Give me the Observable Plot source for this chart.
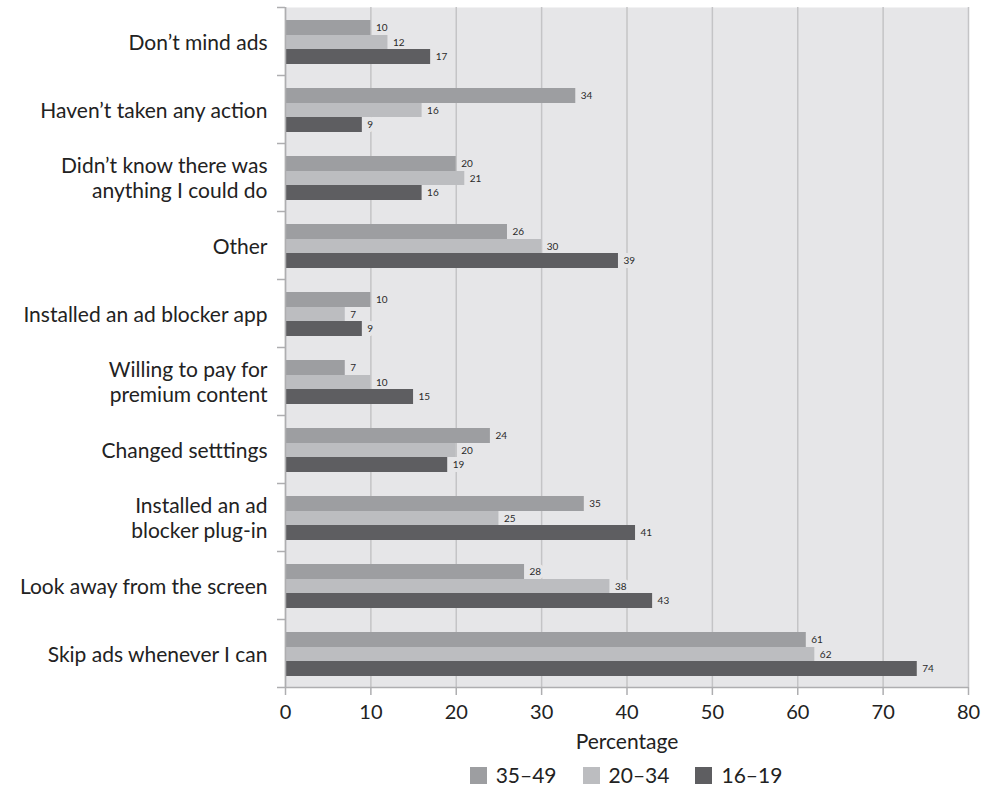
<!DOCTYPE html>
<html>
<head>
<meta charset="utf-8">
<script src="https://cdn.jsdelivr.net/npm/d3@7"></script>
<script src="https://cdn.jsdelivr.net/npm/@observablehq/plot@0.6"></script>
<style>
  body { margin: 0; background: #fff; font-family: Lato, "Open Sans", sans-serif; }
  #chart svg { display: block; }
  #legend { display: flex; justify-content: center; padding-left: 270px; width: 712px; margin-top: 5px; color: #222; font-size: 21px; line-height: 20px; }
  #legend .item { display: flex; align-items: center; margin: 0 13px; }
  #legend .sw { width: 17px; height: 17px; margin-right: 9px; }
</style>
</head>
<body>
<div id="chart"></div>
<div id="legend"></div>
<script>
const categories = [
  "Don’t mind ads",
  "Haven’t taken any action",
  "Didn’t know there was\nanything I could do",
  "Other",
  "Installed an ad blocker app",
  "Willing to pay for\npremium content",
  "Changed setttings",
  "Installed an ad\nblocker plug-in",
  "Look away from the screen",
  "Skip ads whenever I can"
];
const groups = ["35–49", "20–34", "16–19"];
const values3549 = [10, 34, 20, 26, 10, 7, 24, 35, 28, 61];
const values2034 = [12, 16, 21, 30, 7, 10, 20, 25, 38, 62];
const values1619 = [17, 9, 16, 39, 9, 15, 19, 41, 43, 74];
const xTicks = [0, 10, 20, 30, 40, 50, 60, 70, 80];
const colors = ["#9d9ea1", "#bcbdc0", "#5e5e61"];

const series = [values3549, values2034, values1619];
const data = [];
categories.forEach((c, i) => groups.forEach((g, j) => data.push({category: c, group: g, value: series[j][i]})));

const bg = "#e6e6e8";
const gridColor = "#c4c4c6";
const axisColor = "#aeaeb0";
const insets = [[13, 40], [28, 26], [42, 11]];
const labelDy = [-13.5, 1, 15.5];

const barMarks = [];
const haloMarks = [];
const labelMarks = [];
groups.forEach((g, j) => {
  const d = data.filter(r => r.group === g);
  haloMarks.push(Plot.text(d, {x: "value", y: "category", text: d => String(d.value), dx: 5, dy: labelDy[j], textAnchor: "start", fontSize: 10, fill: bg, stroke: bg, strokeWidth: 8}));
  barMarks.push(Plot.barX(d, {x: "value", y: "category", fill: colors[j], insetTop: insets[j][0], insetBottom: insets[j][1]}));
  labelMarks.push(Plot.text(d, {x: "value", y: "category", text: d => String(d.value), dx: 5, dy: labelDy[j], textAnchor: "start", fontSize: 10, fill: "#2a2a2a"}));
});

const chart = Plot.plot({
  width: 982,
  height: 760,
  marginLeft: 285,
  marginRight: 14,
  marginTop: 7,
  marginBottom: 73,
  style: {fontFamily: "Lato, 'Open Sans', sans-serif", fontSize: "20px", color: "#222", background: "#fff"},
  x: {domain: [0, 80], label: "Percentage", labelArrow: "none"},
  y: {domain: categories, padding: 0, label: null},
  marks: [
    Plot.frame({fill: bg, stroke: null}),
    Plot.gridX(xTicks, {stroke: gridColor, strokeOpacity: 1, strokeWidth: 1.5}),
    ...haloMarks,
    ...barMarks,
    ...labelMarks,
    Plot.ruleX([0], {stroke: axisColor, strokeWidth: 1.5}),
    Plot.ruleY([categories[categories.length - 1]], {dy: 34, stroke: axisColor, strokeWidth: 1.5}),
    Plot.axisY(categories, {tickSize: 8, text: null, dy: -34, stroke: axisColor, strokeWidth: 1.5, label: null}),
    Plot.axisY([categories[categories.length - 1]], {tickSize: 8, text: null, dy: 34, stroke: axisColor, strokeWidth: 1.5, label: null}),
    Plot.axisY(categories, {tickSize: 0, tickPadding: 18, fontSize: 21, lineHeight: 1.2, fill: "#222", label: null}),
    Plot.axisX(xTicks, {tickSize: 8, tickPadding: 9, stroke: axisColor, strokeWidth: 1.5, fill: "#222", fontSize: 20, label: null}),
    Plot.text(["Percentage"], {x: 40, frameAnchor: "bottom", dy: 61, fontSize: 21, fill: "#222", text: d => d})
  ]
});
document.getElementById("chart").appendChild(chart);

const legend = document.getElementById("legend");
groups.forEach((g, j) => {
  const item = document.createElement("div");
  item.className = "item";
  const sw = document.createElement("div");
  sw.className = "sw";
  sw.style.background = colors[j];
  const t = document.createElement("span");
  t.textContent = g;
  item.appendChild(sw);
  item.appendChild(t);
  legend.appendChild(item);
});
</script>
</body>
</html>
